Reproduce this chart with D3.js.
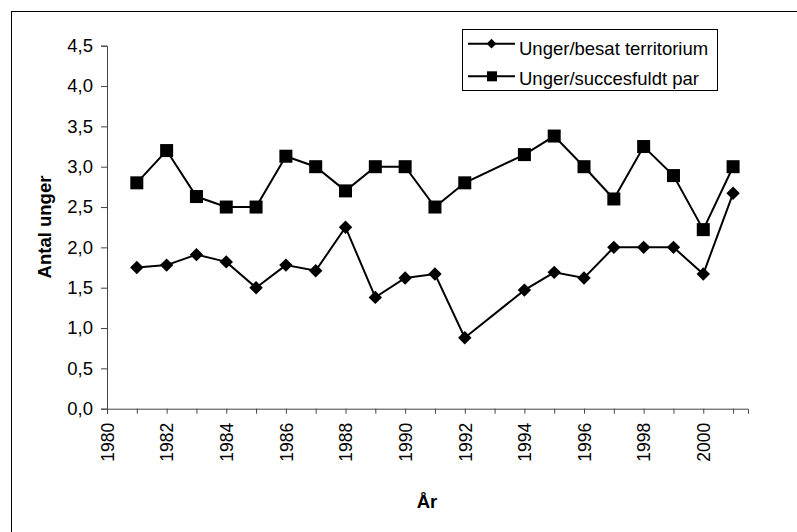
<!DOCTYPE html>
<html>
<head>
<meta charset="utf-8">
<script src="https://cdn.jsdelivr.net/npm/d3@7"></script>
<style>
  body { margin: 0; background: #fff; }
  text { font-family: "Liberation Sans", Arial, sans-serif; }
</style>
</head>
<body>
<svg id="chart" width="797" height="532"></svg>
<script>
// values
const years = [1981, 1982, 1983, 1984, 1985, 1986, 1987, 1988, 1989, 1990,
               1991, 1992, 1994, 1995, 1996, 1997, 1998, 1999, 2000, 2001];
const ungerTerritorium = [1.75, 1.78, 1.91, 1.82, 1.50, 1.78, 1.71, 2.25, 1.38, 1.62,
                          1.67, 0.88, 1.47, 1.69, 1.62, 2.00, 2.00, 2.00, 1.67, 2.67];
const ungerPar = [2.80, 3.20, 2.63, 2.50, 2.50, 3.13, 3.00, 2.70, 3.00, 3.00,
                  2.50, 2.80, 3.15, 3.38, 3.00, 2.60, 3.25, 2.89, 2.22, 3.00];
const yTicks = [0, 0.5, 1, 1.5, 2, 2.5, 3, 3.5, 4, 4.5];
const xLabels = [1980, 1982, 1984, 1986, 1988, 1990, 1992, 1994, 1996, 1998, 2000];
const seriesNames = ["Unger/besat territorium", "Unger/succesfuldt par"];

const svg = d3.select("#chart");

// outer frame
svg.append("rect")
    .attr("x", 11.5).attr("y", 11.5)
    .attr("width", 800).attr("height", 540)
    .style("fill", "none").style("stroke", "#000").style("stroke-width", 1);

const x = d3.scaleLinear().domain([1980, 2001.5]).range([107, 748]);
const y = d3.scaleLinear().domain([0, 4.5]).range([408.7, 45.7]);

const fmt = d3.format(".1f");

// y axis
const yAxis = svg.append("g")
    .attr("transform", "translate(107,0)")
    .call(d3.axisLeft(y).tickValues(yTicks).tickSize(6).tickPadding(8)
        .tickFormat(d => fmt(d).replace(".", ",")));
yAxis.selectAll("text").style("font-size", "18.5px").attr("fill", "#000");

// x axis
const xAxis = svg.append("g")
    .attr("transform", "translate(0,408.7)")
    .call(d3.axisBottom(x).tickValues(d3.range(1980, 2002)).tickSize(5)
        .tickFormat(d => xLabels.includes(d) ? d : ""));
xAxis.selectAll("text")
    .style("font-size", "17.5px").attr("fill", "#000")
    .attr("text-anchor", "end")
    .attr("transform", "rotate(-90)")
    .attr("x", -14).attr("y", 0).attr("dy", "0.36em");

[yAxis, xAxis].forEach(a => {
    a.select(".domain").attr("stroke", "#444");
    a.selectAll(".tick line").attr("stroke", "#444");
});

// axis titles
svg.append("text")
    .attr("transform", "translate(51,227) rotate(-90)")
    .attr("text-anchor", "middle")
    .style("font-size", "18.5px").style("font-weight", "bold")
    .text("Antal unger");
svg.append("text")
    .attr("x", 427).attr("y", 508)
    .attr("text-anchor", "middle")
    .style("font-size", "18.5px").style("font-weight", "bold")
    .text("År");

const line = d3.line()
    .x((d, i) => x(years[i]))
    .y(d => y(d));

const diamond = d3.symbol().type(d3.symbolDiamond2).size(115);
const smallDiamond = d3.symbol().type(d3.symbolDiamond2).size(60);

// series 1: diamonds
svg.append("path").datum(ungerTerritorium)
    .attr("d", line)
    .style("fill", "none").style("stroke", "#000").style("stroke-width", 2);
svg.append("g").selectAll("path").data(ungerTerritorium).join("path")
    .attr("transform", (d, i) => `translate(${x(years[i])},${y(d)})`)
    .attr("d", diamond)
    .style("fill", "#000");

// series 2: squares
svg.append("path").datum(ungerPar)
    .attr("d", line)
    .style("fill", "none").style("stroke", "#000").style("stroke-width", 2);
svg.append("g").selectAll("rect").data(ungerPar).join("rect")
    .attr("x", (d, i) => x(years[i]) - 6.5)
    .attr("y", d => y(d) - 6.5)
    .attr("width", 13).attr("height", 13)
    .style("fill", "#000");

// legend
const legend = svg.append("g");
legend.append("rect")
    .attr("x", 462.5).attr("y", 29.5)
    .attr("width", 255).attr("height", 61)
    .style("fill", "#fff").style("stroke", "#000");

const markerY = [43.7, 76.3];
const textY = [55.3, 84.7];
seriesNames.forEach((name, i) => {
    const cy = markerY[i];
    legend.append("line")
        .attr("x1", 468).attr("x2", 515).attr("y1", cy).attr("y2", cy)
        .style("stroke", "#000").style("stroke-width", 2);
    if (i === 0) {
        legend.append("path")
            .attr("transform", `translate(491.5,${cy})`)
            .attr("d", smallDiamond).style("fill", "#000");
    } else {
        legend.append("rect")
            .attr("x", 487).attr("y", cy - 5)
            .attr("width", 10).attr("height", 10)
            .style("fill", "#000");
    }
    legend.append("text")
        .attr("x", 519).attr("y", textY[i])
        .style("font-size", "18.5px")
        .text(name);
});
</script>
</body>
</html>
